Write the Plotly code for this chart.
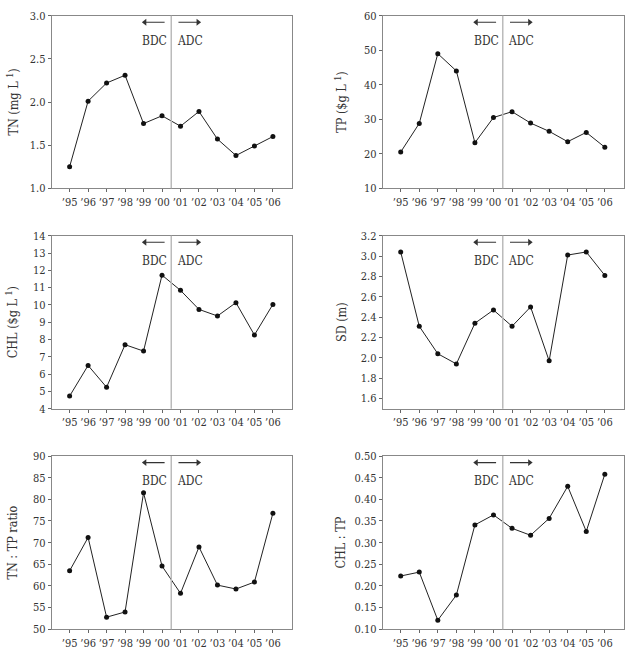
import plotly.graph_objects as go

years = ["’95", "’96", "’97", "’98", "’99", "’00", "’01", "’02", "’03", "’04", "’05", "’06"]

tn = [1.25, 2.01, 2.22, 2.31, 1.75, 1.84, 1.72, 1.89, 1.57, 1.38, 1.49, 1.60]
tp = [20.5, 28.8, 49.0, 44.0, 23.2, 30.5, 32.2, 28.9, 26.5, 23.5, 26.2, 21.9]
chl = [4.73, 6.50, 5.24, 7.70, 7.33, 11.72, 10.84, 9.74, 9.36, 10.13, 8.26, 10.03]
sd = [3.04, 2.31, 2.04, 1.94, 2.34, 2.47, 2.31, 2.50, 1.97, 3.01, 3.04, 2.81]
tn_tp = [63.5, 71.2, 52.8, 54.0, 81.5, 64.6, 58.3, 69.0, 60.2, 59.3, 60.9, 76.8]
chl_tp = [0.223, 0.232, 0.121, 0.179, 0.341, 0.364, 0.333, 0.317, 0.356, 0.430, 0.326, 0.458]

panels = [
    dict(y=tn, title="TN (mg L <sup>1</sup>)", rng=[1.0, 3.0], dtick=0.5, fmt=".1f", t0=1.0, so=8),
    dict(y=tp, title="TP ($g L <sup>1</sup>)", rng=[10, 60], dtick=10, fmt="d", t0=10, so=14),
    dict(y=chl, title="CHL ($g L <sup>1</sup>)", rng=[4, 14], dtick=1, fmt="d", t0=4, so=12),
    dict(y=sd, title="SD (m)", rng=[1.5, 3.2], dtick=0.2, fmt=".1f", t0=1.6, so=11),
    dict(y=tn_tp, title="TN : TP ratio", rng=[50, 90], dtick=5, fmt="d", t0=50, so=12),
    dict(y=chl_tp, title="CHL : TP", rng=[0.10, 0.50], dtick=0.05, fmt=".2f", t0=0.10, so=6),
]

W, H = 634, 652
xdoms = [(51.7, 292.3), (382.7, 624.3)]
ydoms = [(15.7, 188.3), (235.7, 408.7), (456.0, 629.3)]

fig = go.Figure()
FONT = "DejaVu Serif Condensed, DejaVu Serif"
idx = list(range(len(years)))

for i, p in enumerate(panels):
    r, c = divmod(i, 2)
    n = "" if i == 0 else str(i + 1)
    xa, ya = "x" + n, "y" + n
    fig.add_trace(go.Scatter(
        x=idx, y=p["y"], xaxis=xa, yaxis=ya, mode="lines+markers",
        line=dict(color="#222", width=1),
        marker=dict(color="#111", size=5),
        showlegend=False, hoverinfo="skip",
    ))
    lo, hi = p["rng"]
    ay = lo + 0.962 * (hi - lo)
    # arrows (line + head marker)
    for xs, sym in (([4.12, 5.14], "triangle-left"), ([5.89, 6.9], "triangle-right")):
        fig.add_trace(go.Scatter(x=xs, y=[ay, ay], xaxis=xa, yaxis=ya, mode="lines",
                                 line=dict(color="#333", width=1.2), showlegend=False,
                                 hoverinfo="skip"))
        hx = xs[0] - 0.05 if sym == "triangle-left" else xs[1] + 0.05
        fig.add_trace(go.Scatter(x=[hx], y=[ay], xaxis=xa, yaxis=ya, mode="markers",
                                 marker=dict(symbol=sym, size=6, color="#333"),
                                 showlegend=False, hoverinfo="skip"))
    x0, x1 = xdoms[c]
    yt, yb = ydoms[r]
    axcommon = dict(showgrid=False, zeroline=False, showline=True, linecolor="#888",
                    linewidth=1, mirror=True, ticks="outside", ticklen=3, tickcolor="#666",
                    tickfont=dict(family=FONT, size=11, color="#333"), automargin=False)
    fig.update_layout(**{
        "xaxis" + n: dict(domain=[x0 / W, x1 / W], anchor=ya, range=[-0.97, 12.05],
                          tickmode="array", tickvals=idx, ticktext=years, tickangle=0,
                          **axcommon),
        "yaxis" + n: dict(domain=[1 - yb / H, 1 - yt / H], anchor=xa, range=p["rng"],
                          tick0=p["t0"], dtick=p["dtick"], tickformat=p["fmt"],
                          title=dict(text=p["title"], standoff=p["so"],
                                     font=dict(family=FONT, size=12.5, color="#333")),
                          **axcommon),
    })
    fig.add_shape(type="line", xref=xa, yref=ya + " domain", x0=5.5, x1=5.5, y0=0, y1=1,
                  line=dict(color="#bbb", width=1.5))
    fig.add_annotation(xref=xa, yref=ya + " domain", x=4.6, y=0.905, text="BDC",
                       showarrow=False, font=dict(family=FONT, size=12, color="#333"))
    fig.add_annotation(xref=xa, yref=ya + " domain", x=6.5, y=0.905, text="ADC",
                       showarrow=False, font=dict(family=FONT, size=12, color="#333"))

fig.update_layout(width=W, height=H, margin=dict(l=0, r=0, t=0, b=0),
                  paper_bgcolor="white", plot_bgcolor="white",
                  font=dict(family=FONT, size=11, color="#333"))

fig.write_html("out.html")
